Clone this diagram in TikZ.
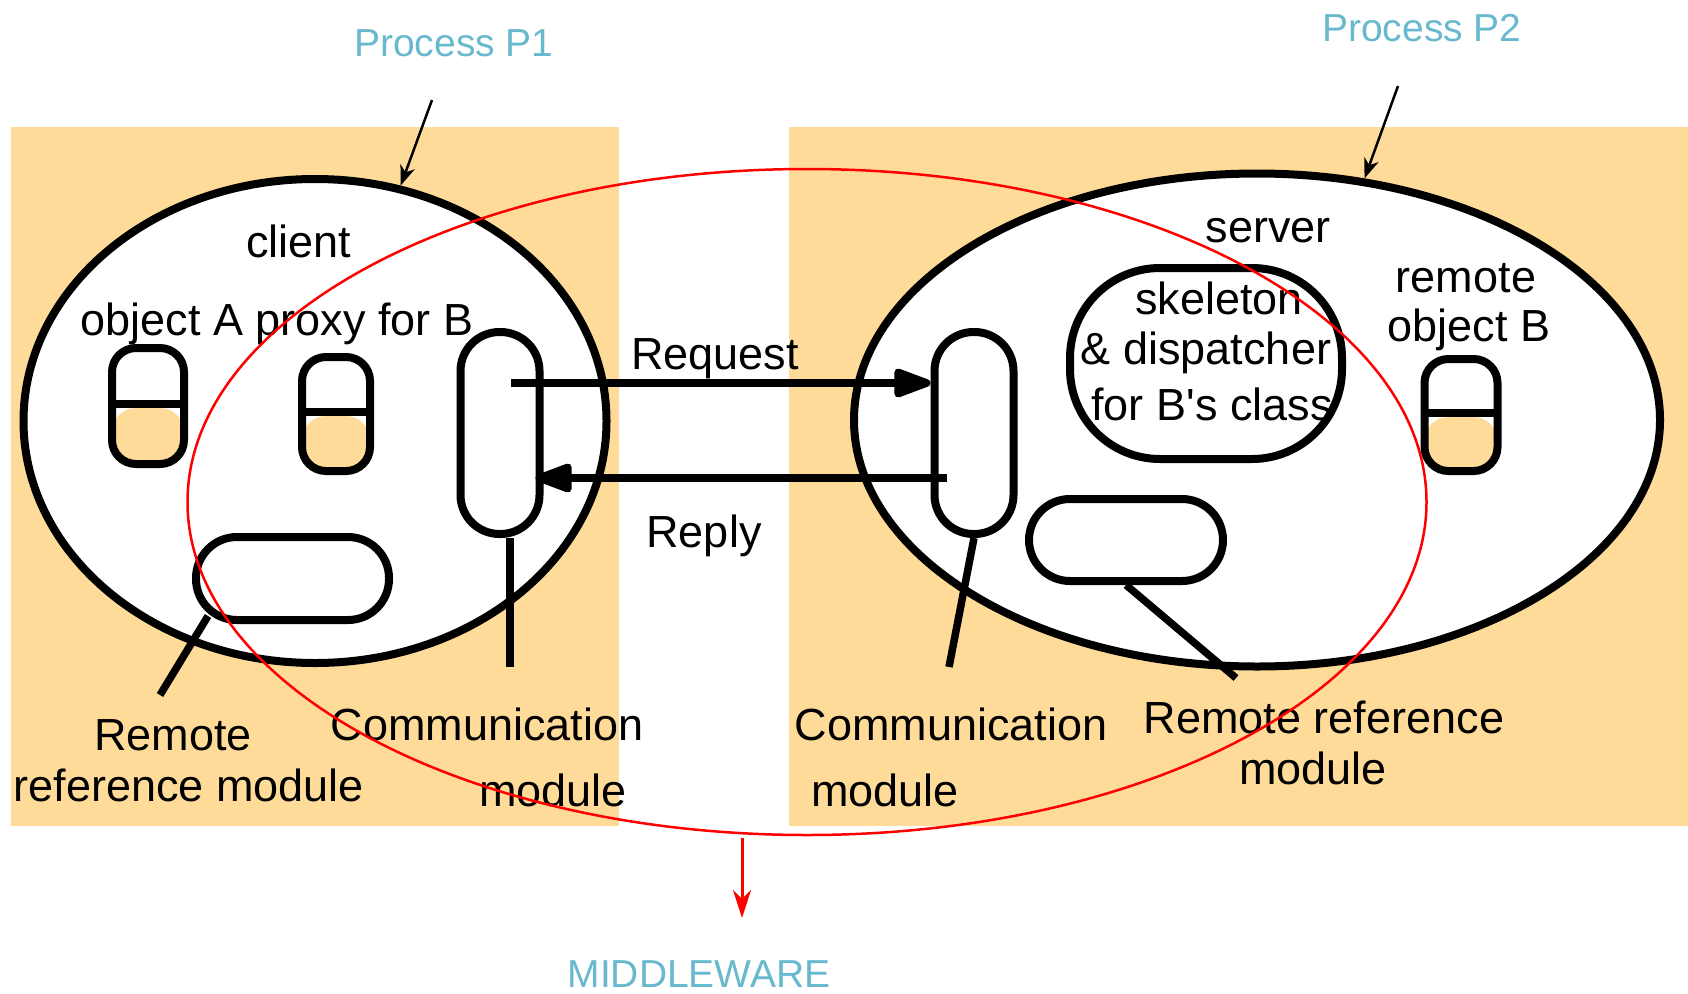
\documentclass[tikz,border=0pt]{standalone}
\usepackage{fontspec}
\setmainfont{Liberation Sans}
\usetikzlibrary{shapes.geometric,arrows.meta,calc}
\definecolor{procfill}{RGB}{255,219,154}
\definecolor{labelblue}{RGB}{104,184,206}
\begin{document}
\begin{tikzpicture}[x=1pt,y=-1pt,
  bigtext/.style={font=\fontsize{45}{54}\selectfont, inner sep=0pt, anchor=base},
  bluetext/.style={font=\fontsize{39}{47}\selectfont, text=labelblue, inner sep=0pt, anchor=base},
  procbg/.style={fill=procfill, draw=none},
  procell/.style={ellipse, draw=black, fill=white, line width=8pt, inner sep=0pt},
  pill/.style={draw=black, fill=white, line width=8pt, inner sep=0pt, rounded corners=#1},
  objbox/.style={pill=24pt,
    path picture={
      \fill[procfill] ([yshift=-2pt]path picture bounding box.west) rectangle (path picture bounding box.south east);
      \draw[line width=8pt] ([yshift=2pt]path picture bounding box.west) -- ([yshift=2pt,xshift=-4pt]path picture bounding box.east);
    }},
  stem/.style={draw=black, line width=7.5pt},
  msgarrow/.style={draw=black, line width=7.5pt, -{Triangle[length=44pt,width=30pt,round]}},
  procarrow/.style={draw=black, line width=2.5pt, -{Stealth[length=20pt,width=15pt,inset=6pt]}},
  mwarrow/.style={draw=red, line width=3pt, -{Stealth[length=28pt,width=18pt,inset=9pt]}}
]
\useasboundingbox (0,0) rectangle (1688,993);

% process backgrounds
\fill[procbg] (11,127) rectangle (619,826);
\fill[procbg] (789,127) rectangle (1688,826);

% the two processes
\node[procell, minimum width=583pt, minimum height=484pt] (p1) at (315,421) {};
\node[procell, minimum width=806pt, minimum height=493pt] (p2) at (1257,420) {};

% objects inside process P1
\node[objbox, minimum width=72pt, minimum height=116pt] (objA) at (148,406) {};
\node[objbox, minimum width=68pt, minimum height=114pt] (proxyB) at (336,414) {};
\node[pill=39pt, minimum width=79pt, minimum height=202pt] (lcm) at (500,433) {};
\node[pill=41pt, minimum width=193pt, minimum height=83pt] (lrr) at (292.5,578.5) {};

% objects inside process P2
\node[pill=39pt, minimum width=79pt, minimum height=202pt] (rcm) at (974,433) {};
\node[pill=90pt, minimum width=272pt, minimum height=191pt] (skel) at (1206,363.5) {};
\node[objbox, minimum width=73pt, minimum height=112pt] (objB) at (1461,415) {};
\node[pill=41pt, minimum width=194pt, minimum height=82pt] (rrr) at (1126,540) {};

% pointer lines to the module captions
\coordinate (lrrEnd) at (160,695);
\coordinate (lcmEnd) at (510,667);
\coordinate (rcmEnd) at (949,667);
\coordinate (rrrEnd) at (1236,678);
\draw[stem] ($(lrr.south west)+(16,-8)$) -- (lrrEnd);
\draw[stem] (lcm.south -| lcmEnd) -- (lcmEnd);
\draw[stem] (rcm.south) -- (rcmEnd);
\draw[stem] (rrr.south) -- (rrrEnd);

% request and reply messages
\coordinate (reqS) at (511,383);
\coordinate (repS) at (947,478);
\draw[msgarrow] (reqS) -- (rcm.west |- reqS);
\draw[msgarrow, shorten >=-8pt] (repS) -- (lcm.east |- repS);

% texts
\node[bigtext] (tclient) at (299,257) {client};
\node[bigtext] (tobjA) at (277,335) {object A proxy for B};
\node[bigtext] (treq) at (715,369) {Request};
\node[bigtext] (trep) at (704,547) {Reply};
\node[bigtext] (tlrr1) at (173,750) {Remote};
\node[bigtext] (tlrr2) at (189,801) {reference module};
\node[bigtext] (tlcm1) at (487,740) {Communication};
\node[bigtext] (tlcm2) at (553,806) {module};
\node[bigtext] (trcm1) at (951,740) {Communication};
\node[bigtext] (trcm2) at (885,806) {module};
\node[bigtext] (trrr1) at (1324,733) {Remote reference};
\node[bigtext] (trrr2) at (1313,784) {module};
\node[bigtext] (tserver) at (1268,242) {server};
\node[bigtext] (tskel1) at (1219,314) {skeleton};
\node[bigtext] (tskel2) at (1206,364) {\& dispatcher};
\node[bigtext] (tskel3) at (1212,420) {for B\textquotesingle s class};
\node[bigtext] (tobjB1) at (1466,292) {remote};
\node[bigtext] (tobjB2) at (1469,341) {object B};

% middleware
\node[ellipse, draw=red, line width=2.5pt, minimum width=1239pt, minimum height=666pt, inner sep=0pt] (mw) at (807,502) {};
\coordinate (mwS) at (742,838);
\coordinate (mwE) at (742,918);
\draw[mwarrow] (mwS) -- (mwE);
\node[bluetext] (lmw) at (699,987) {MIDDLEWARE};

% process captions
\node[bluetext] (lp1) at (454,56) {Process P1};
\node[bluetext] (lp2) at (1422,41) {Process P2};
\coordinate (p1tail) at (432,100);
\coordinate (p2tail) at (1398,86);
\draw[procarrow] (p1tail) -- (p1.70);
\draw[procarrow] (p2tail) -- (p2.66);
\end{tikzpicture}
\end{document}
